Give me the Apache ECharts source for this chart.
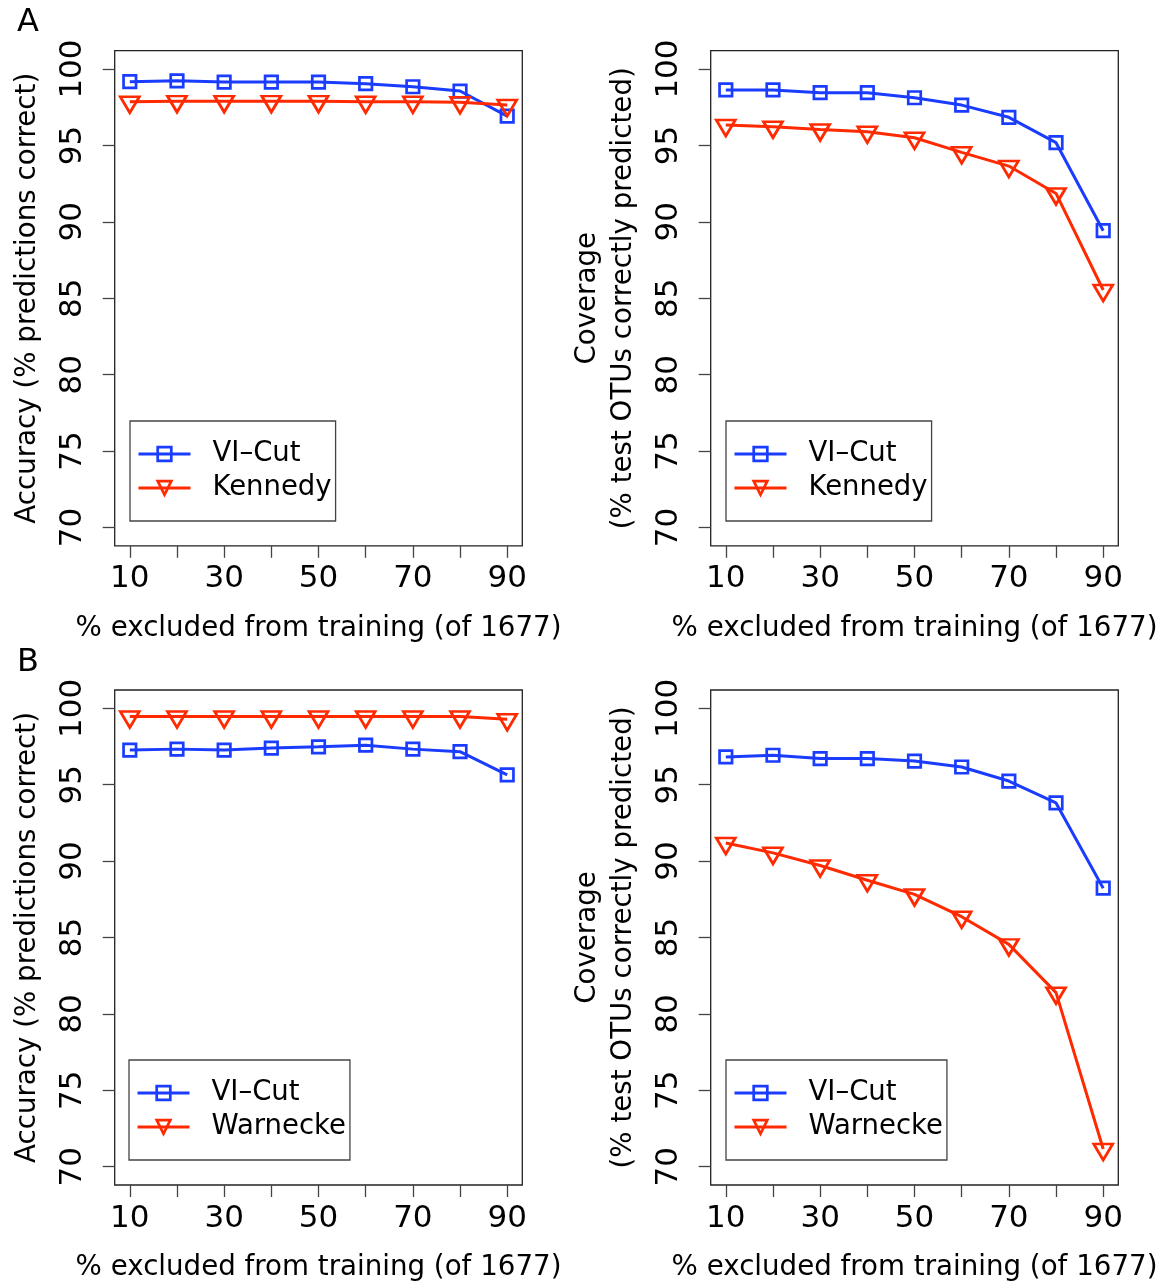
<!DOCTYPE html>
<html>
<head>
<meta charset="utf-8">
<script src="https://cdn.jsdelivr.net/npm/echarts@6/dist/echarts.min.js"></script>
<style>
  html, body { margin: 0; padding: 0; background: #fff; }
  #chart { width: 1171px; height: 1283px; }
</style>
</head>
<body>
<div id="chart"></div>
<script>
// Percentage of the 1677 OTUs held out of training
const pctExcluded = [10, 20, 30, 40, 50, 60, 70, 80, 90];

// Panel A: VI-Cut vs Kennedy
const accuracyA_viCut   = [99.17, 99.23, 99.15, 99.15, 99.15, 99.04, 98.84, 98.56, 96.92];
const accuracyA_kennedy = [97.86, 97.90, 97.90, 97.90, 97.90, 97.86, 97.86, 97.82, 97.64];
const coverageA_viCut   = [98.63, 98.63, 98.45, 98.45, 98.12, 97.64, 96.84, 95.18, 89.42];
const coverageA_kennedy = [96.34, 96.23, 96.05, 95.90, 95.50, 94.55, 93.65, 91.86, 85.54];

// Panel B: VI-Cut vs Warnecke
const accuracyB_viCut    = [97.27, 97.33, 97.27, 97.40, 97.48, 97.59, 97.33, 97.16, 95.65];
const accuracyB_warnecke = [99.46, 99.46, 99.46, 99.46, 99.46, 99.46, 99.46, 99.46, 99.29];
const coverageB_viCut    = [96.82, 96.93, 96.71, 96.71, 96.55, 96.16, 95.24, 93.81, 88.23];
const coverageB_warnecke = [91.18, 90.54, 89.71, 88.75, 87.82, 86.36, 84.55, 81.39, 71.16];

// Axis ticks and labels
const xTickValues  = [10, 20, 30, 40, 50, 60, 70, 80, 90];
const xLabelValues = [10, 30, 50, 70, 90];
const yTickValues  = [70, 75, 80, 85, 90, 95, 100];

const xTitle = '% excluded from training (of 1677)';
const accTitle = 'Accuracy (% predictions correct)';
const covTitle = 'Coverage\n(% test OTUs correctly predicted)';

const FONT = 'DejaVu Sans';
const BLUE = '#1a3cff';
const RED = '#ff2a00';
const TICK_FS = 31;
const TITLE_FS = 27.7;
const LEGEND_FS = 27.5;

const pair = (ys) => pctExcluded.map((x, i) => [x, ys[i]]);

const panels = [
  { left: 114.7, top: 50.7, height: 495.1, yTitle: accTitle },
  { left: 710.7, top: 50.7, height: 495.1, yTitle: covTitle },
  { left: 114.7, top: 690,  height: 496,   yTitle: accTitle },
  { left: 710.7, top: 690,  height: 496,   yTitle: covTitle }
];

const grids = panels.map(p => ({
  left: p.left, top: p.top, width: 407.6, height: p.height,
  show: true, borderColor: '#222', borderWidth: 1.3, backgroundColor: 'transparent'
}));

const xAxes = panels.map((p, i) => ({
  type: 'value', gridIndex: i, min: 6.8, max: 93.2,
  axisLine: { show: false },
  splitLine: { show: false },
  axisTick: { show: true, length: 12, customValues: xTickValues, lineStyle: { color: '#444', width: 1.3 } },
  axisLabel: { customValues: xLabelValues, fontSize: TICK_FS, fontFamily: FONT, color: '#000', margin: 18 },
  name: xTitle, nameLocation: 'middle', nameGap: 69,
  nameTextStyle: { fontSize: TITLE_FS, fontFamily: FONT, color: '#000' }
}));

const yAxes = panels.map((p, i) => ({
  type: 'value', gridIndex: i, min: 68.8, max: 101.2,
  axisLine: { show: false },
  splitLine: { show: false },
  axisTick: { show: true, length: 12, customValues: yTickValues, lineStyle: { color: '#444', width: 1.3 } },
  axisLabel: { customValues: yTickValues, rotate: 90, fontSize: TICK_FS, fontFamily: FONT, color: '#000', margin: 26 },
  name: p.yTitle, nameLocation: 'middle', nameGap: 69, nameRotate: 90,
  nameTextStyle: { fontSize: TITLE_FS, fontFamily: FONT, color: '#000', lineHeight: 36 }
}));

const TRI_DOWN = 'path://M0,0L2,0L1,1.732Z';

function viCutSeries(name, ys, idx) {
  return {
    type: 'line', name: name, xAxisIndex: idx, yAxisIndex: idx, data: pair(ys),
    symbol: 'rect', symbolSize: 12.5, showAllSymbol: true,
    lineStyle: { color: BLUE, width: 3 },
    itemStyle: { color: 'rgba(255,255,255,0)', borderColor: BLUE, borderWidth: 2.7 },
    emphasis: { disabled: true }, animation: false, z: 3
  };
}
function refSeries(name, ys, idx) {
  return {
    type: 'line', name: name, xAxisIndex: idx, yAxisIndex: idx, data: pair(ys),
    symbol: TRI_DOWN, symbolSize: [19, 16], symbolOffset: [0, 3], showAllSymbol: true,
    lineStyle: { color: RED, width: 3 },
    itemStyle: { color: 'rgba(255,255,255,0)', borderColor: RED, borderWidth: 2.7 },
    emphasis: { disabled: true }, animation: false, z: 3
  };
}

const series = [
  viCutSeries('VI–Cut', accuracyA_viCut, 0),
  refSeries('Kennedy', accuracyA_kennedy, 0),
  viCutSeries('VI–Cut', coverageA_viCut, 1),
  refSeries('Kennedy', coverageA_kennedy, 1),
  viCutSeries('VI–Cut', accuracyB_viCut, 2),
  refSeries('Warnecke', accuracyB_warnecke, 2),
  viCutSeries('VI–Cut', coverageB_viCut, 3),
  refSeries('Warnecke', coverageB_warnecke, 3)
];

function legendAt(left, top, names) {
  return {
    left: left, top: top, orient: 'vertical', data: names, selectedMode: false,
    itemWidth: 52, itemHeight: 17, itemGap: 6,
    padding: [19, 4, 19, 7],
    borderColor: '#444', borderWidth: 1.3, backgroundColor: '#fff',
    lineStyle: { width: 3 },
    itemStyle: { borderWidth: 2.7 },
    textStyle: { fontSize: LEGEND_FS, fontFamily: FONT, color: '#000', lineHeight: 28, padding: [0, 0, 0, 17] }
  };
}

const option = {
  animation: false,
  backgroundColor: '#fff',
  title: [
    { text: 'A', left: 17, top: 7, padding: 0, textStyle: { fontSize: 32, fontWeight: 'normal', fontFamily: FONT, color: '#000' } },
    { text: 'B', left: 17, top: 647, padding: 0, textStyle: { fontSize: 32, fontWeight: 'normal', fontFamily: FONT, color: '#000' } }
  ],
  grid: grids,
  xAxis: xAxes,
  yAxis: yAxes,
  legend: [
    legendAt(130, 421, ['VI–Cut', 'Kennedy']),
    legendAt(726, 421, ['VI–Cut', 'Kennedy']),
    legendAt(129, 1060, ['VI–Cut', 'Warnecke']),
    legendAt(726, 1060, ['VI–Cut', 'Warnecke'])
  ],
  series: series
};

const chart = echarts.init(document.getElementById('chart'), null, { renderer: 'canvas' });
chart.setOption(option);
</script>
</body>
</html>
